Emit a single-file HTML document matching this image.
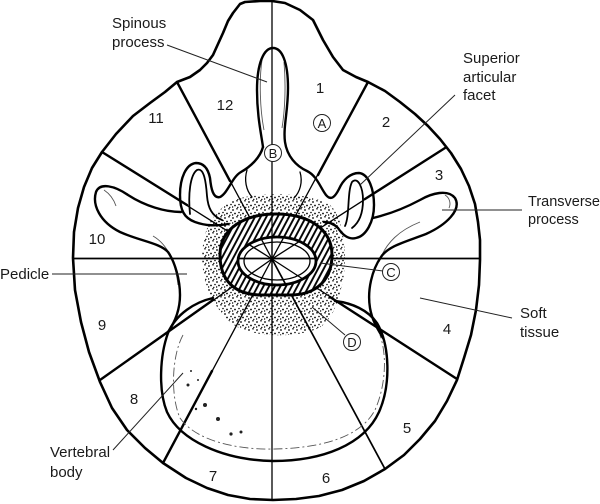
<!DOCTYPE html>
<html><head><meta charset="utf-8"><style>
html,body{margin:0;padding:0;background:#fff;}
svg{display:block;}
text{font-family:"Liberation Sans",Arial,sans-serif;fill:#1a1a1a;}
</style></head><body>
<svg width="600" height="504" viewBox="0 0 600 504" xmlns="http://www.w3.org/2000/svg">
<defs>
<pattern id="dots" width="8" height="8" patternUnits="userSpaceOnUse">
<circle cx="1" cy="2" r="0.9" fill="#000"/><circle cx="5" cy="0.8" r="0.8" fill="#000"/><circle cx="3" cy="5.5" r="0.9" fill="#000"/><circle cx="7" cy="4.5" r="0.8" fill="#000"/><circle cx="5.8" cy="7.4" r="0.7" fill="#000"/><circle cx="0.6" cy="7" r="0.7" fill="#000"/>
</pattern>
<pattern id="hatch" width="5" height="10" patternUnits="userSpaceOnUse" patternTransform="rotate(28)">
<rect width="5" height="10" fill="#fff"/><line x1="2" y1="0" x2="2" y2="10" stroke="#000" stroke-width="1.9"/>
</pattern>
</defs>
<rect width="600" height="504" fill="#fff"/>

<!-- stipple -->
<path fill-rule="evenodd" fill="url(#dots)" d="M 245,197 C 270,192 310,193 330,205 C 345,218 348,260 342,285 C 338,300 335,315 322,326 C 305,338 250,340 230,322 C 218,310 212,300 208,290 C 200,270 200,240 210,222 C 220,206 232,200 245,197 Z M 220,255 C 220,228 245,214 276,214 C 310,214 332,230 332,255 C 332,278 318,295 290,295 L 262,295 C 234,295 220,280 220,255 Z"/>

<!-- outer boundary -->
<polygon fill="none" stroke="#000" stroke-width="2.6" stroke-linejoin="round" points="245,2 260,1 272,1 285,3 300,10 313,20 323,40 333,57 343,70 356,77 368,82 385,91 400,102 415,114 428,126 440,139 451,153 461,169 469,186 475,204 478,222 480,240 480,260 479,285 476,310 471,335 464,358 457,380 447,401 435,421 420,439 404,455 385,469 364,481 342,490 319,496 296,499 273,500 250,499 228,495 207,488 186,478 163,463 145,448 127,430 112,408 100,382 89,352 81,322 75,290 73,258 74,232 78,208 84,187 92,168 102,152 116,134 133,116 150,103 165,92 177,82 190,77 200,70 207,63 213,55 218,44 223,33 228,21 233,13 240,4"/>

<!-- spokes thin -->
<g stroke="#000" stroke-width="1.3" fill="none">
<line x1="272" y1="1" x2="272" y2="500"/>
<line x1="368" y1="82" x2="272" y2="259"/>
<line x1="445" y1="148" x2="272" y2="259"/>
<line x1="457" y1="379" x2="272" y2="259"/>
<line x1="385" y1="469" x2="272" y2="259" stroke-width="1.7"/>
<line x1="163" y1="463" x2="272" y2="259"/>
<line x1="100" y1="380" x2="272" y2="259"/>
<line x1="102" y1="152" x2="272" y2="259"/>
<line x1="177" y1="82" x2="272" y2="259"/>
<line x1="73" y1="258.5" x2="480" y2="258.5" stroke-width="1.8"/>
</g>
<!-- spokes thick outer parts -->
<g stroke="#000" stroke-width="2.4" fill="none" stroke-linecap="round">
<line x1="368" y1="82" x2="318" y2="175"/>
<line x1="445" y1="148" x2="365" y2="199"/>
<line x1="457" y1="379" x2="330" y2="297"/>
<line x1="163" y1="463" x2="212" y2="371"/>
<line x1="100" y1="380" x2="213" y2="300"/>
<line x1="102" y1="152" x2="187" y2="205"/>
<line x1="177" y1="82" x2="230" y2="181"/>
</g>

<!-- faint sketch lines -->
<g stroke="#555" stroke-width="0.9" fill="none">
<path d="M 183,335 C 172,355 170,395 180,418 C 195,440 235,450 275,449 C 320,448 360,438 375,410 C 386,385 387,355 380,335" stroke-dasharray="9 3 2 3"/>
<path d="M 153,236 C 165,243 175,258 178,285"/>
<path d="M 420,222 C 400,230 386,242 379,262"/>
<path d="M 104,190 C 110,194 114,200 116,206"/>
<path d="M 445,195 C 450,198 451,204 449,208"/>
<path d="M 262,60 C 259,80 260,110 264,130"/>
<path d="M 284,62 C 286,85 285,110 282,128"/>
</g>
<g fill="#222">
<circle cx="188" cy="385" r="1.5"/><circle cx="191" cy="371" r="1"/><circle cx="205" cy="405" r="2"/><circle cx="218" cy="419" r="2"/><circle cx="231" cy="434" r="1.6"/><circle cx="241" cy="432" r="1.5"/><circle cx="198" cy="380" r="1"/><circle cx="196" cy="409" r="1.2"/>
</g>

<!-- bony outlines -->
<g stroke="#000" stroke-width="2.4" fill="none" stroke-linejoin="round" stroke-linecap="round">
<path d="M 263,147 C 261,133 257,115 257,90 C 257,63 264,48 273,48 C 282,48 288,62 288,88 C 288,112 283,127 285,142 C 287,156 296,166 307,171 C 317,176 320,187 326,195 C 331,201 335,197 339,189 C 343,180 350,173 359,173 C 369,174 374,190 374,205 C 374,222 366,236 356,238 C 348,240 342,234 338,228 C 334,224 330,222 324,222"/>
<path d="M 373,218 C 390,214 405,208 420,200 C 432,193 448,189 455,198 C 462,210 446,225 426,234 C 405,242 388,246 381,257 C 372,270 367,290 370,308 C 372,320 377,328 383,338"/>
<path d="M 263,147 C 260,158 250,167 241,172 C 232,177 228,193 220,197 C 213,199 211,188 210,178 C 208,168 203,163 196,163 C 186,164 180,178 180,195 C 180,210 184,218 195,222 C 206,226 216,226 228,224"/>
<path d="M 181,212 C 165,212 145,206 128,195 C 115,186 100,182 96,192 C 92,205 100,222 120,232 C 140,241 160,243 168,252 C 175,262 180,280 180,295 C 180,310 175,322 168,332"/>
<path d="M 213,298 C 195,302 176,314 168,333 C 160,355 158,390 167,412 C 180,440 222,460 273,461 C 322,461 364,445 379,412 C 391,385 390,345 377,323 C 368,310 352,303 335,301"/>
<path stroke-width="1.8" d="M 190,214 C 188,195 190,175 197,170 C 204,167 206,182 207,196 C 208,208 212,216 222,220"/>
<path stroke-width="1.8" d="M 345,226 C 350,215 347,192 352,182 C 358,176 363,188 363,200 C 363,212 360,222 352,228"/>
<path stroke-width="1.3" d="M 247,170 C 244,180 246,190 252,197"/>
<path stroke-width="1.3" d="M 300,172 C 303,182 300,192 294,198"/>
</g>

<!-- hatched ring -->
<path fill-rule="evenodd" fill="url(#hatch)" stroke="none" d="M 220,255 C 220,228 245,214 276,214 C 310,214 332,230 332,255 C 332,278 318,295 290,295 L 262,295 C 234,295 220,280 220,255 Z M 238,261 A 39 24 0 1 0 316,261 A 39 24 0 1 0 238,261 Z"/>
<path fill="none" stroke="#000" stroke-width="3" d="M 220,255 C 220,228 245,214 276,214 C 310,214 332,230 332,255 C 332,278 318,295 290,295 L 262,295 C 234,295 220,280 220,255 Z"/>
<ellipse cx="277" cy="261" rx="39" ry="24" fill="none" stroke="#000" stroke-width="2.8"/>
<ellipse cx="277" cy="261" rx="33" ry="19" fill="none" stroke="#000" stroke-width="1.3"/>
<line x1="272" y1="214" x2="272" y2="295" stroke="#000" stroke-width="1.2"/>

<!-- leaders -->
<g stroke="#222" stroke-width="1" fill="none">
<line x1="167" y1="45" x2="267" y2="82"/>
<line x1="455" y1="95" x2="360" y2="185"/>
<line x1="442" y1="210" x2="522" y2="210"/>
<line x1="52" y1="274" x2="187" y2="274"/>
<line x1="420" y1="298" x2="512" y2="318"/>
<line x1="113" y1="450" x2="183" y2="373"/>
<line x1="320" y1="263" x2="383" y2="271"/>
<line x1="312" y1="307" x2="345" y2="335"/>
</g>

<!-- circled letters -->
<g fill="#fff" stroke="#222" stroke-width="1">
<circle cx="322" cy="123" r="8.5"/><circle cx="273" cy="153" r="8.5"/><circle cx="391" cy="272" r="8.5"/><circle cx="352" cy="342" r="8.5"/>
</g>
<g font-size="13" text-anchor="middle">
<text x="322" y="128">A</text><text x="273" y="158">B</text><text x="391" y="277">C</text><text x="352" y="347">D</text>
</g>

<!-- sector numbers -->
<g font-size="15" text-anchor="middle">
<text x="320" y="93">1</text><text x="386" y="127">2</text><text x="439" y="180">3</text><text x="447" y="334">4</text>
<text x="407" y="433">5</text><text x="326" y="483">6</text><text x="213" y="481">7</text><text x="134" y="404">8</text>
<text x="102" y="330">9</text><text x="97" y="244">10</text><text x="156" y="123">11</text><text x="225" y="110">12</text>
</g>

<!-- labels -->
<g font-size="15">
<text x="112" y="28">Spinous</text><text x="112" y="47">process</text>
<text x="463" y="63">Superior</text><text x="463" y="82">articular</text><text x="463" y="100">facet</text>
<text x="528" y="206" font-size="14.5">Transverse</text><text x="528" y="224" font-size="14.5">process</text>
<text x="0" y="279">Pedicle</text>
<text x="520" y="318">Soft</text><text x="520" y="337">tissue</text>
<text x="50" y="457">Vertebral</text><text x="50" y="477">body</text>
</g>
</svg>
</body></html>
